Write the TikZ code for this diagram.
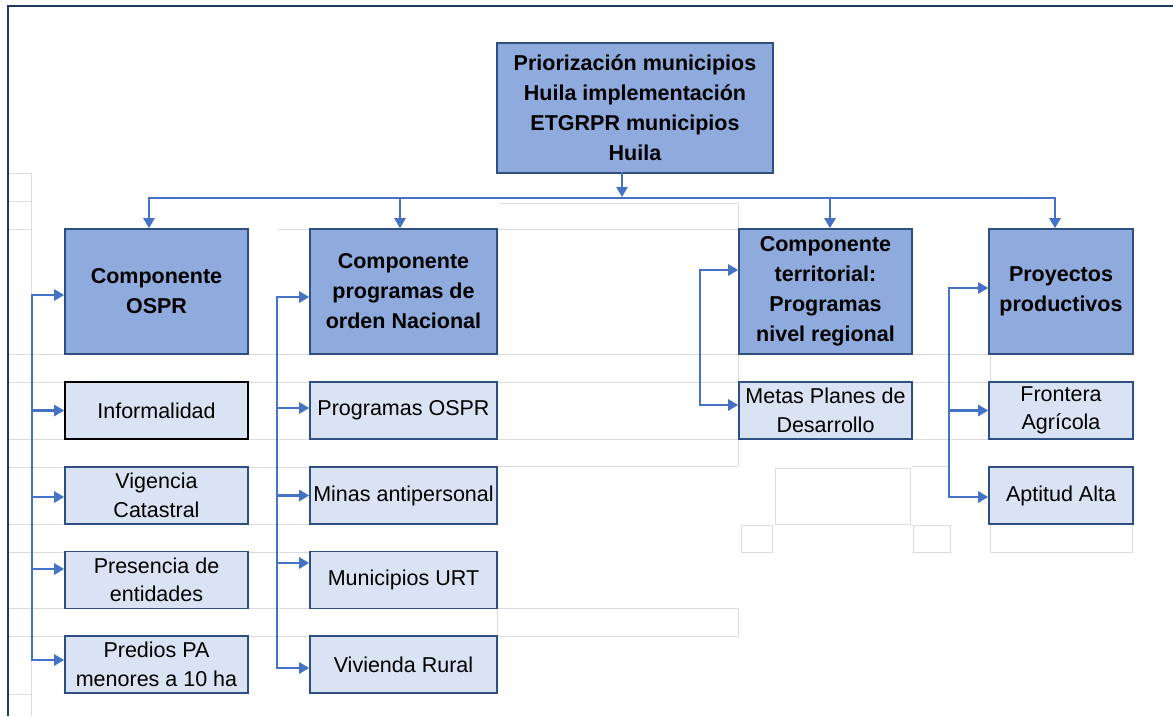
\documentclass[tikz,border=0pt]{standalone}
\usepackage{fontspec}
\setmainfont{Liberation Sans}
\usetikzlibrary{arrows.meta}
\definecolor{mainfill}{HTML}{8FAADC}
\definecolor{subfill}{HTML}{DAE3F3}
\definecolor{boxline}{HTML}{2F4E82}
\definecolor{arrowblue}{HTML}{4472C4}
\definecolor{framenavy}{HTML}{1F3864}
\definecolor{gridgray}{HTML}{DCDCDC}
\begin{document}
\begin{tikzpicture}[x=1pt,y=-1pt,
  mainbox/.style={draw=boxline, line width=1.6pt, fill=mainfill, inner sep=0pt, align=center,
    font=\fontsize{21.5}{30}\selectfont\bfseries},
  subbox/.style={draw=boxline, line width=1.6pt, fill=subfill, inner sep=0pt, align=center,
    minimum height=57pt, font=\fontsize{21.5}{28.5}\selectfont},
  conn/.style={draw=arrowblue, line width=2.8pt, line cap=rect},
  arr/.style={conn, -{Triangle[length=10pt,width=11pt]}},
  gridline/.style={draw=gridgray, line width=1pt},
  frameline/.style={draw=framenavy, line width=2.4pt}]
\useasboundingbox (0,0) rectangle (1173,716);
\fill[white] (0,0) rectangle (1173,716);

% spreadsheet grid
\draw[gridline] (31,173) -- (31,716);
\foreach \yy in {173,201,229,694} {\draw[gridline] (8,\yy) -- (31,\yy);}
\foreach \yy in {354,382,439,467,524,552,608,636} {\draw[gridline] (8,\yy) -- (310,\yy);}
\draw[gridline] (500,203) -- (738,203) -- (738,466);
\draw[gridline] (278,229) -- (738,229);
\foreach \yy in {354,382,439,466} {\draw[gridline] (497,\yy) -- (738,\yy);}
\draw[gridline] (497,608) rectangle (738,636);
\draw[gridline] (738,354) -- (989,354);
\foreach \yy in {382,439} {\draw[gridline] (912,\yy) -- (989,\yy);}
\draw[gridline] (912,466) -- (950,466);
\draw[gridline] (775,468) rectangle (910,524);
\draw[gridline] (741,525) rectangle (772,552);
\draw[gridline] (913,525) rectangle (950,552);
\draw[gridline] (990,524) rectangle (1132,552);
\draw[gridline] (990,354) -- (990,382);

% outer frame
\draw[frameline] (8,716) -- (8,6) -- (1173,6);

% boxes
\node[mainbox, minimum width=276pt, minimum height=130pt] (top) at (635,108)
  {Priorización municipios\\Huila implementación\\ETGRPR municipios\\Huila};
\node[mainbox, minimum width=183pt, minimum height=125pt] (ospr) at (156.5,291.5) {Componente\\OSPR};
\node[mainbox, minimum width=187pt, minimum height=125pt] (nac) at (403.5,291.5) {Componente\\programas de\\orden Nacional};
\node[mainbox, minimum width=173pt, minimum height=125pt] (terr) at (825.5,291.5) {Componente\\territorial:\\Programas\\nivel regional};
\node[mainbox, minimum width=144pt, minimum height=125pt] (proy) at (1061,291.5) {Proyectos\\productivos};

\node[subbox, draw=black, minimum width=183pt] (inf) at (156.5,410.5) {Informalidad};
\node[subbox, minimum width=183pt] (vig) at (156.5,495.5) {Vigencia\\Catastral};
\node[subbox, minimum width=183pt] (pres) at (156.5,580) {Presencia de\\entidades};
\node[subbox, minimum width=183pt] (pred) at (156.5,664.5) {Predios PA\\menores a 10 ha};

\node[subbox, minimum width=187pt] (prog) at (403.5,410.5) {Programas OSPR};
\node[subbox, minimum width=187pt] (minas) at (403.5,495.5) {Minas antipersonal};
\node[subbox, minimum width=187pt] (urt) at (403.5,580) {Municipios URT};
\node[subbox, minimum width=187pt] (viv) at (403.5,664.5) {Vivienda Rural};

\node[subbox, minimum width=173pt] (metas) at (825.5,410.5) {Metas Planes de\\Desarrollo};

\node[subbox, minimum width=144pt] (front) at (1061,410.5) {Frontera\\Agrícola};
\node[subbox, minimum width=144pt] (apt) at (1061,495.5) {Aptitud Alta};

% top distribution
\coordinate (tb) at (622,197);
\draw[arr] (top.south -| tb) -- (tb);
\coordinate (d1) at (149,198);
\coordinate (d2) at (400,198);
\coordinate (d3) at (830,198);
\coordinate (d4) at (1055,198);
\draw[conn] (d2) -- (d3);
\draw[arr] (d2) -| (ospr.north -| d1);
\draw[arr] (d3) -| (proy.north -| d4);
\draw[arr] (d2) -- (nac.north -| d2);
\draw[arr] (d3) -- (terr.north -| d3);

% column 1 bus
\coordinate (c1) at (32,295);
\draw[arr] (c1) -- ([yshift=-3.5pt]ospr.west);
\draw[arr] (c1) |- (inf.west);
\draw[arr] (c1) |- ([yshift=-1.5pt]vig.west);
\draw[arr] (c1) |- ([yshift=11pt]pres.west);
\draw[arr] (c1) |- ([yshift=4.5pt]pred.west);

% column 2 bus
\coordinate (c2) at (277,297);
\draw[arr] (c2) -- ([yshift=-5.5pt]nac.west);
\draw[arr] (c2) |- ([yshift=2.5pt]prog.west);
\draw[arr] (c2) |- (minas.west);
\draw[arr] (c2) |- ([yshift=17pt]urt.west);
\draw[arr] (c2) |- ([yshift=-3.5pt]viv.west);

% column 3 bus
\coordinate (c3) at (700,270);
\draw[arr] (c3) -- ([yshift=21.5pt]terr.west);
\draw[arr] (c3) |- ([yshift=5.5pt]metas.west);

% column 4 bus
\coordinate (c4) at (949,288);
\draw[arr] (c4) -- ([yshift=3.5pt]proy.west);
\draw[arr] (c4) |- (front.west);
\draw[arr] (c4) |- ([yshift=-1.5pt]apt.west);
\end{tikzpicture}
\end{document}
